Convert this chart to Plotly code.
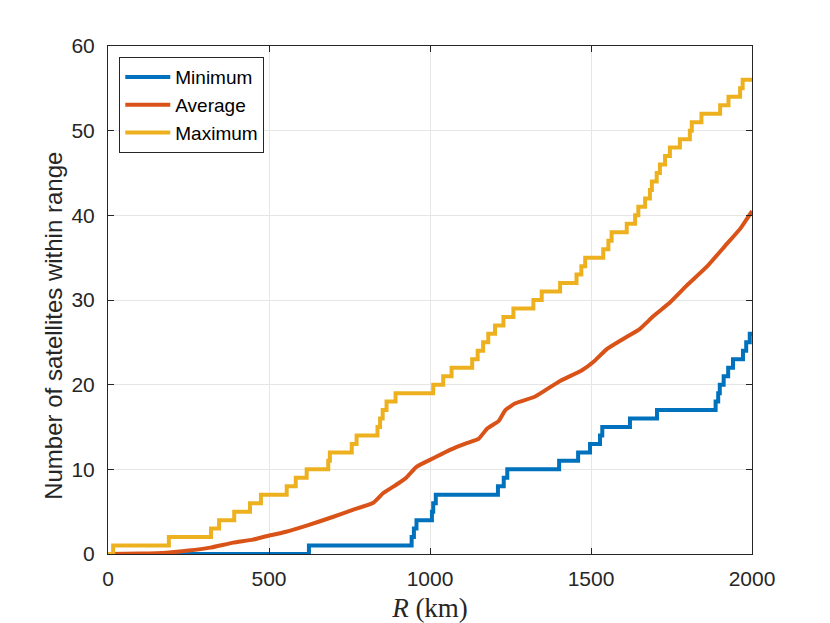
import plotly.graph_objects as go

# Minimum number of satellites in range (step function)
min_r = [0, 624, 943, 950, 958, 1006, 1010, 1018, 1211, 1229, 1240, 1401, 1460, 1497, 1528,
         1535, 1621, 1705, 1887, 1895, 1900, 1912, 1926, 1941, 1972, 1982, 1993, 2000]
min_v = [0, 1, 2, 3, 4, 5, 6, 7, 8, 9, 10, 11, 12, 13, 14,
         15, 16, 17, 18, 19, 20, 21, 22, 23, 24, 25, 26, 26]

# Average number of satellites in range
avg_r = [0, 100, 182, 250, 317, 389, 450, 492, 550, 617, 700, 760, 824, 855, 900, 927, 958,
         1010, 1062, 1114, 1151, 1177, 1213, 1234, 1265, 1327, 1400, 1472, 1508, 1549, 1600,
         1652, 1694, 1745, 1797, 1859, 1921, 1963, 2000]
avg_v = [0, 0.05, 0.16, 0.4, 0.75, 1.34, 1.7, 2.1, 2.6, 3.35, 4.4, 5.2, 6.06, 7.2, 8.3, 9.05, 10.3,
         11.3, 12.3, 13.1, 13.6, 14.8, 15.7, 17.0, 17.8, 18.6, 20.35, 21.7, 22.7, 24.2, 25.4,
         26.6, 28.1, 29.7, 31.7, 33.9, 36.6, 38.4, 40.5]

# Maximum number of satellites in range (step function)
max_r = [0, 16, 189, 320, 345, 392, 441, 475, 555, 583, 617, 684, 689, 757, 772, 837, 845, 853,
         865, 893, 1010, 1041, 1067, 1131, 1148, 1165, 1181, 1202, 1228, 1259, 1321, 1347, 1404,
         1455, 1470, 1482, 1538, 1554, 1564, 1611, 1637, 1647, 1668, 1683, 1689, 1704, 1714, 1730,
         1745, 1776, 1807, 1813, 1843, 1901, 1927, 1963, 1971, 2000]
max_v = [0, 1, 2, 3, 4, 5, 6, 7, 8, 9, 10, 11, 12, 13, 14, 15, 16, 17,
         18, 19, 20, 21, 22, 23, 24, 25, 26, 27, 28, 29, 30, 31, 32,
         33, 34, 35, 36, 37, 38, 39, 40, 41, 42, 43, 44, 45, 46, 47,
         48, 49, 50, 51, 52, 53, 54, 55, 56, 56]

x_ticks = [0, 500, 1000, 1500, 2000]
y_ticks = [0, 10, 20, 30, 40, 50, 60]

axis_col = "#262626"
grid_col = "#e6e6e6"

fig = go.Figure()
fig.add_trace(go.Scatter(x=min_r, y=min_v, mode="lines", name="Minimum",
                         line=dict(color="#0072BD", width=4, shape="hv")))
fig.add_trace(go.Scatter(x=avg_r, y=avg_v, mode="lines", name="Average",
                         line=dict(color="#D95319", width=4, shape="spline", smoothing=0.4)))
fig.add_trace(go.Scatter(x=max_r, y=max_v, mode="lines", name="Maximum",
                         line=dict(color="#EDB120", width=4, shape="hv")))

# page body adds ~8px offset, so margins are shifted accordingly
fig.update_layout(
    width=830, height=623,
    margin=dict(l=100, r=86, t=38, b=77),
    paper_bgcolor="white", plot_bgcolor="white",
    font=dict(family="Liberation Sans, Arial", size=21, color=axis_col),
    showlegend=True,
    legend=dict(x=0.0175, y=0.978, xanchor="left", yanchor="top",
                bgcolor="white", bordercolor=axis_col, borderwidth=1,
                font=dict(size=19, color="black"), tracegroupgap=0, itemwidth=45),
    annotations=[dict(text="Number of satellites within range", textangle=-90,
                      xref="paper", yref="paper", x=-0.084, y=0.449,
                      xanchor="center", yanchor="middle", showarrow=False,
                      font=dict(size=24, color=axis_col))],
)
fig.update_xaxes(
    range=[0, 2000], tickvals=x_ticks, ticks="inside", ticklen=6, tickcolor=axis_col,
    showline=True, linecolor=axis_col, linewidth=1, mirror="ticks",
    showgrid=True, gridcolor=grid_col, gridwidth=1, zeroline=False, automargin=False,
    ticklabelstandoff=6,
    title=dict(text="<i>R</i> (km)", standoff=8,
               font=dict(family="Liberation Serif, Times New Roman", size=27, color=axis_col)),
)
fig.update_yaxes(
    range=[0, 60], tickvals=y_ticks, ticks="inside", ticklen=6, tickcolor=axis_col,
    showline=True, linecolor=axis_col, linewidth=1, mirror="ticks",
    showgrid=True, gridcolor=grid_col, gridwidth=1, zeroline=False, automargin=False,
    ticklabelstandoff=8,
)

fig.write_html("out.html")
